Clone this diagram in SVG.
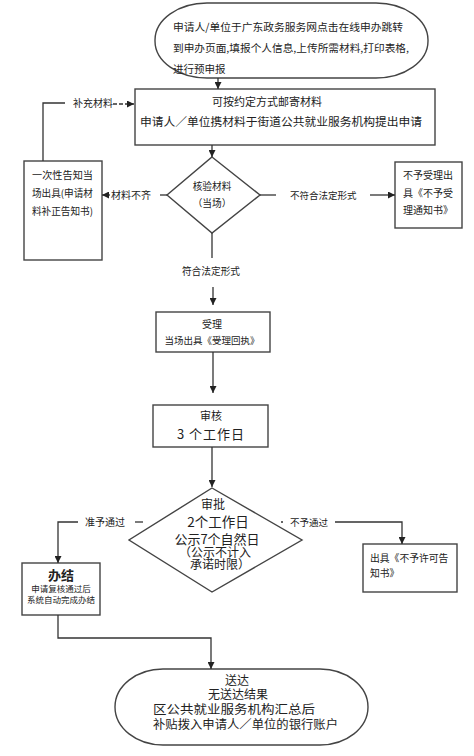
<svg xmlns="http://www.w3.org/2000/svg" width="474" height="756" viewBox="0 0 474 756">
<defs>
<marker id="ah" viewBox="0 0 10 10" refX="10" refY="5" markerWidth="7" markerHeight="7" markerUnits="userSpaceOnUse" orient="auto">
<path d="M0,0 L10,5 L0,10 z" fill="#222"/>
</marker>
<style>
.s{fill:#fff;stroke:#444;stroke-width:1.4}
.c{fill:none;stroke:#333;stroke-width:1.3}
text{font-family:"Noto Sans CJK SC","Noto Sans",sans-serif;fill:#222}
.m{text-anchor:middle}
</style>
</defs>
<rect width="474" height="756" fill="#fff"/>

<g id="n-start">
<rect class="s" x="155" y="3" width="273" height="75" rx="52" ry="37"/>
<text x="173" y="31" font-size="10.5" textLength="230" lengthAdjust="spacingAndGlyphs">申请人/单位于广东政务服务网点击在线申办跳转</text>
<text x="173" y="52" font-size="10.5" textLength="236" lengthAdjust="spacingAndGlyphs">到申办页面,填报个人信息,上传所需材料,打印表格,</text>
<text x="173" y="73" font-size="10.5">进行预申报</text>
</g>

<g id="n-apply">
<rect class="s" x="135" y="89" width="300" height="56"/>
<text x="267" y="106" font-size="11" class="m">可按约定方式邮寄材料</text>
<text x="140" y="126" font-size="11.7" textLength="282" lengthAdjust="spacingAndGlyphs">申请人／单位携材料于街道公共就业服务机构提出申请</text>
</g>

<g id="n-check">
<polygon class="s" points="212,157 260,195 212,233 167,195"/>
<text x="212" y="190" font-size="9.7" class="m">核验材料</text>
<text x="212" y="207" font-size="9.7" class="m">（当场）</text>
</g>

<g id="n-notice">
<rect class="s" x="24" y="161" width="78" height="99"/>
<text x="32" y="179" font-size="10" textLength="61" lengthAdjust="spacingAndGlyphs">一次性告知当</text>
<text x="32" y="197" font-size="10" textLength="61" lengthAdjust="spacingAndGlyphs">场出具(申请材</text>
<text x="32" y="215" font-size="10" textLength="61" lengthAdjust="spacingAndGlyphs">料补正告知书)</text>
</g>

<g id="n-reject">
<rect class="s" x="395" y="162" width="67" height="66"/>
<text x="403" y="179" font-size="10">不予受理出</text>
<text x="403" y="197" font-size="10">具《不予受</text>
<text x="403" y="214" font-size="10">理通知书》</text>
</g>

<g id="n-accept">
<rect class="s" x="156" y="312" width="114" height="40"/>
<text x="212" y="328" font-size="10" class="m">受理</text>
<text x="212" y="344" font-size="9.5" class="m">当场出具《受理回执》</text>
</g>

<g id="n-review">
<rect class="s" x="153" y="405" width="115" height="42"/>
<text x="211" y="420" font-size="11" class="m">审核</text>
<text x="211" y="439" font-size="13" class="m" letter-spacing="1">3 个工作日</text>
</g>

<g id="n-approve">
<polygon class="s" points="212,488 302,540 212,592 129,540"/>
<text x="213" y="509" font-size="12" class="m">审批</text>
<text x="218" y="527" font-size="13.5" class="m">2个工作日</text>
<text x="217" y="544" font-size="13" class="m">公示7个自然日</text>
<text x="215" y="557" font-size="12" class="m">（公示不计入</text>
<text x="220" y="569" font-size="12" class="m">承诺时限）</text>
</g>

<g id="n-done">
<rect class="s" x="22" y="563" width="78" height="52"/>
<text x="61" y="580" font-size="13" font-weight="bold" class="m">办结</text>
<text x="61" y="592" font-size="8.5" class="m">申请复核通过后</text>
<text x="61" y="603" font-size="8.5" class="m">系统自动完成办结</text>
</g>

<g id="n-deny">
<rect class="s" x="363" y="544" width="94" height="48"/>
<text x="370" y="562" font-size="9.8">出具《不予许可告</text>
<text x="370" y="577" font-size="9.8">知书》</text>
</g>

<g id="n-deliver">
<rect class="s" x="115" y="669" width="253" height="76" rx="48" ry="38"/>
<text x="237" y="685" font-size="12" class="m">送达</text>
<text x="238" y="699" font-size="12" class="m">无送达结果</text>
<text x="153" y="714" font-size="12" textLength="162" lengthAdjust="spacingAndGlyphs">区公共就业服务机构汇总后</text>
<text x="153" y="729" font-size="12" textLength="185" lengthAdjust="spacingAndGlyphs">补贴拨入申请人／单位的银行账户</text>
</g>

<g id="connectors">
<line class="c" x1="218" y1="78" x2="218" y2="89" marker-end="url(#ah)"/>
<line class="c" x1="212" y1="145" x2="212" y2="157" marker-end="url(#ah)"/>
<polyline class="c" points="43,161 43,103 65,103"/>
<text x="73" y="107" font-size="10">补充材料</text>
<line class="c" x1="113" y1="104" x2="134" y2="104" stroke-dasharray="4,2" marker-end="url(#ah)"/>
<line class="c" x1="167" y1="195" x2="160" y2="195"/>
<text x="111" y="199" font-size="10">材料不齐</text>
<line class="c" x1="110" y1="195" x2="102" y2="195" marker-end="url(#ah)"/>
<line class="c" x1="260" y1="195" x2="276" y2="195"/>
<text x="290" y="199" font-size="9.5">不符合法定形式</text>
<line class="c" x1="370" y1="195" x2="395" y2="195" marker-end="url(#ah)"/>
<line class="c" x1="212" y1="233" x2="212" y2="258"/>
<text x="211" y="275" font-size="9.7" class="m">符合法定形式</text>
<line class="c" x1="213" y1="287" x2="213" y2="305" marker-end="url(#ah)"/>
<line class="c" x1="213" y1="352" x2="213" y2="393" marker-end="url(#ah)"/>
<line class="c" x1="212" y1="447" x2="212" y2="487" marker-end="url(#ah)"/>
<line class="c" x1="143" y1="522" x2="135" y2="522"/>
<text x="85" y="526" font-size="10">准予通过</text>
<polyline class="c" points="78,522 58,522 58,563" marker-end="url(#ah)"/>
<line class="c" x1="281" y1="522" x2="283" y2="522"/>
<text x="290" y="526" font-size="9.5">不予通过</text>
<polyline class="c" points="335,522 402,522 402,544" marker-end="url(#ah)"/>
<polyline class="c" points="58,615 58,638 211,638 211,669" marker-end="url(#ah)"/>
</g>
</svg>
